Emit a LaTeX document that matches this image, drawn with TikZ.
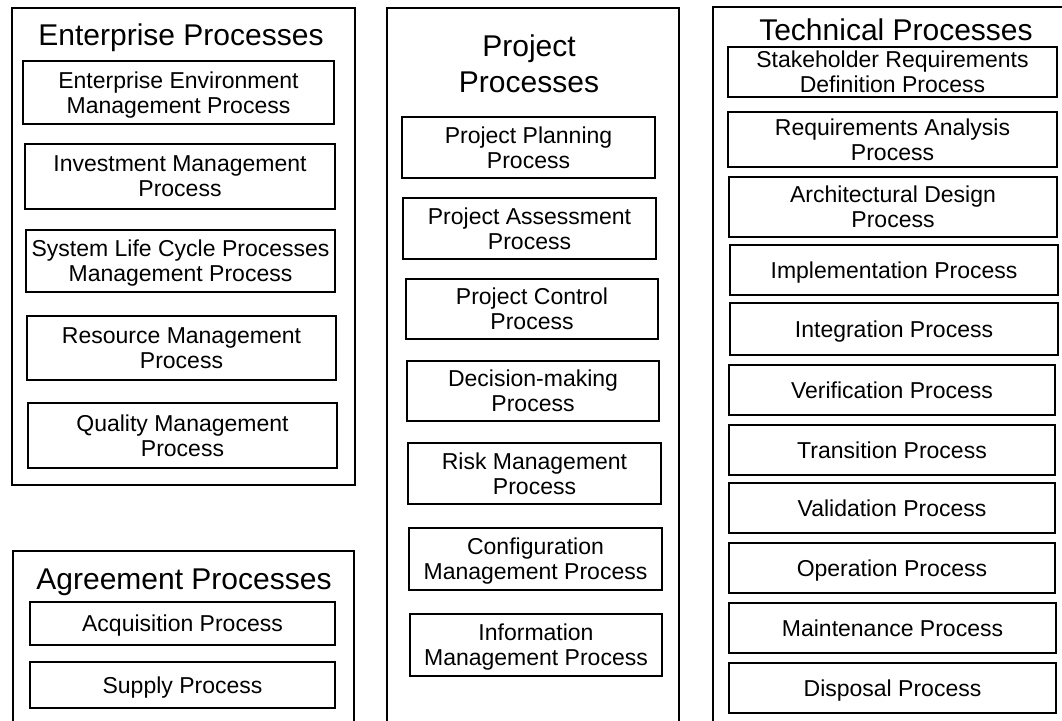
\documentclass[tikz,border=0pt]{standalone}
\usepackage{fontspec}
\setmainfont{Liberation Sans}
\newcommand\pbx[7]{\node[#1, minimum width={#5-#3}, minimum height={#6-#4}] (#2) at ({(#3+#5)/2},{(#4+#6)/2}) {#7};}
\begin{document}
\begin{tikzpicture}[x=1pt,y=-1pt,
  outer/.style={draw=black, line width=1.7pt, inner sep=0pt},
  title/.style={font=\fontsize{30}{36}\selectfont, align=center, inner sep=0pt},
  pbox/.style={draw=black, line width=1.6pt, align=center, inner sep=0pt, text depth=0pt, font=\fontsize{23}{25}\selectfont},
]
\useasboundingbox (0,0) rectangle (1062,720);
\clip (0,0) rectangle (1062,720);
\fill[white] (0,0) rectangle (1062,720);

% Enterprise
\pbx{outer}{ent}{12}{8}{355}{485}{}
\node[title, anchor=base] (enttitle) at (181,45) {Enterprise Processes};
\pbx{pbox}{eem}{23}{61}{334}{124}{Enterprise Environment\\Management Process}
\pbx{pbox}{inv}{25}{144}{335}{209}{Investment Management\\Process}
\pbx{pbox}{slc}{26}{230}{335}{292}{System Life Cycle Processes\\Management Process}
\pbx{pbox}{res}{27}{316}{336}{380}{Resource Management\\Process}
\pbx{pbox}{qual}{28}{403}{337}{468}{Quality Management\\Process}

% Agreement
\pbx{outer}{agr}{13}{551}{354}{760}{}
\node[title, anchor=base] (agrtitle) at (184,589) {Agreement Processes};
\pbx{pbox}{acq}{30}{602}{335}{645}{Acquisition Process}
\pbx{pbox}{sup}{30}{662}{335}{708}{Supply Process}

% Project
\pbx{outer}{proj}{387}{8}{679}{760}{}
\node[title] (projtitle) at (529,64) {Project\\Processes};
\pbx{pbox}{plan}{402}{117}{655}{178}{Project Planning\\Process}
\pbx{pbox}{assess}{403}{198}{656}{259}{Project Assessment\\Process}
\pbx{pbox}{ctrl}{406}{279}{658}{339}{Project Control\\Process}
\pbx{pbox}{dec}{407}{361}{659}{421}{Decision-making\\Process}
\pbx{pbox}{risk}{408}{443}{661}{504}{Risk Management\\Process}
\pbx{pbox}{conf}{409}{528}{662}{590}{Configuration\\Management Process}
\pbx{pbox}{info}{410}{614}{662}{676}{Information\\Management Process}

% Technical
\pbx{outer}{tech}{713}{7}{1090}{760}{}
\node[title, anchor=base] (techtitle) at (896,40) {Technical Processes};
\pbx{pbox}{sh}{728}{47}{1057}{97}{Stakeholder Requirements\\Definition Process}
\pbx{pbox}{ra}{728}{112}{1057}{167}{Requirements Analysis\\Process}
\pbx{pbox}{ad}{729}{177}{1057}{237}{Architectural Design\\Process}
\pbx{pbox}{impl}{730}{245}{1058}{295}{Implementation Process}
\pbx{pbox}{integ}{730}{303}{1058}{355}{Integration Process}
\pbx{pbox}{verif}{729}{365}{1055}{415}{Verification Process}
\pbx{pbox}{trans}{729}{425}{1055}{475}{Transition Process}
\pbx{pbox}{valid}{729}{483}{1055}{533}{Validation Process}
\pbx{pbox}{oper}{729}{543}{1055}{593}{Operation Process}
\pbx{pbox}{maint}{729}{603}{1056}{653}{Maintenance Process}
\pbx{pbox}{disp}{729}{663}{1056}{713}{Disposal Process}
\end{tikzpicture}
\end{document}
